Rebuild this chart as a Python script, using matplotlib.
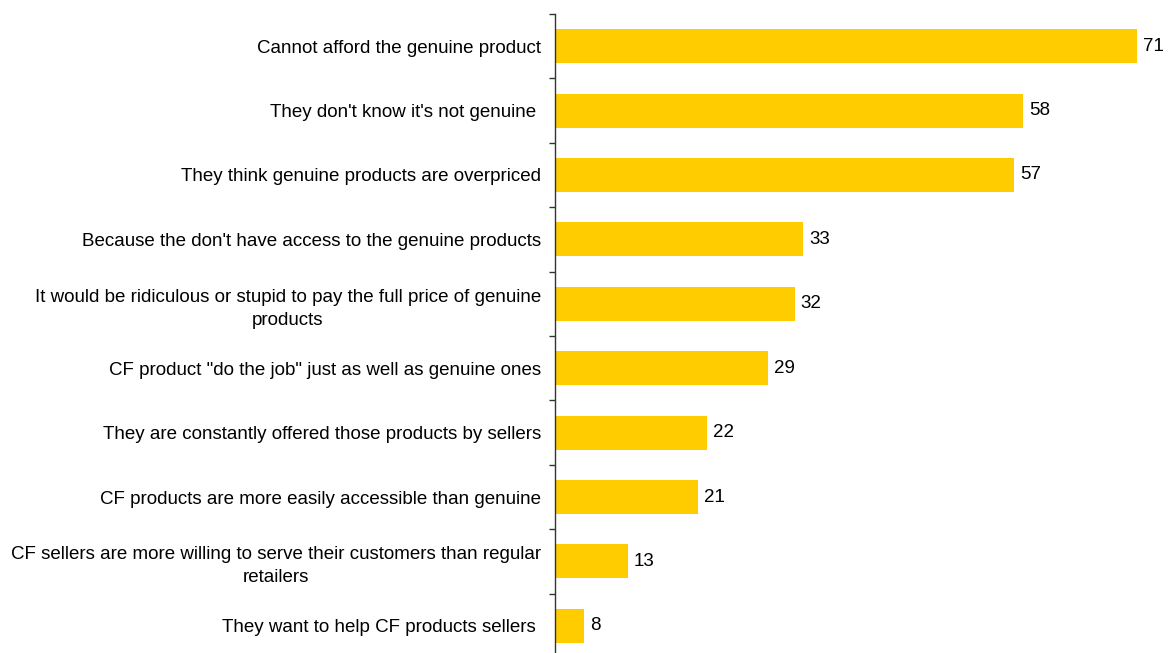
import matplotlib.pyplot as plt
import numpy as np

plt.rcParams['font.family'] = ['Liberation Sans', 'DejaVu Sans']

reasons = [
    "Cannot afford the genuine product",
    "They don't know it's not genuine ",
    "They think genuine products are overpriced",
    "Because the don't have access to the genuine products",
    "It would be ridiculous or stupid to pay the full price of genuine\nproducts",
    "CF product \"do the job\" just as well as genuine ones",
    "They are constantly offered those products by sellers",
    "CF products are more easily accessible than genuine",
    "CF sellers are more willing to serve their customers than regular\nretailers",
    "They want to help CF products sellers ",
]
shares = [71, 58, 57, 33, 32, 29, 22, 21, 13, 8]

bar_color = "#FFCC00"
fsize = 13.5

fig = plt.figure(figsize=(11.71, 6.53), dpi=100)
ax = fig.add_axes([555 / 1171, -5 / 653, 616 / 1171, 644 / 653])

n = len(shares)
y = np.arange(n)
# value axis does not start at zero; bars grow from the axis minimum
x0, x1 = 4.7, 74.9
ax.barh(y, np.array(shares) - x0, left=x0, height=0.53, color=bar_color, zorder=2)
ax.set_ylim(n - 0.5, -0.5)
ax.set_xlim(x0, x1)

for yi, v in zip(y, shares):
    ax.annotate(f"{v}", (v, yi), xytext=(4.5, 0), textcoords="offset points",
                va="center", ha="left", fontsize=fsize)

ax.set_yticks(y)
ax.set_yticklabels(reasons, fontsize=fsize, multialignment="center", linespacing=1.45)
ax.tick_params(axis="y", which="major", length=0, pad=10)
ax.set_yticks(np.arange(-0.5, n, 1), minor=True)
ax.tick_params(axis="y", which="minor", length=4.3, width=1, direction="out", color="#333333")

ax.set_xticks([])
for side in ["top", "right", "bottom"]:
    ax.spines[side].set_visible(False)
ax.spines["left"].set_color("#333333")
ax.spines["left"].set_linewidth(1)

fig.savefig("out.png", dpi=100)
